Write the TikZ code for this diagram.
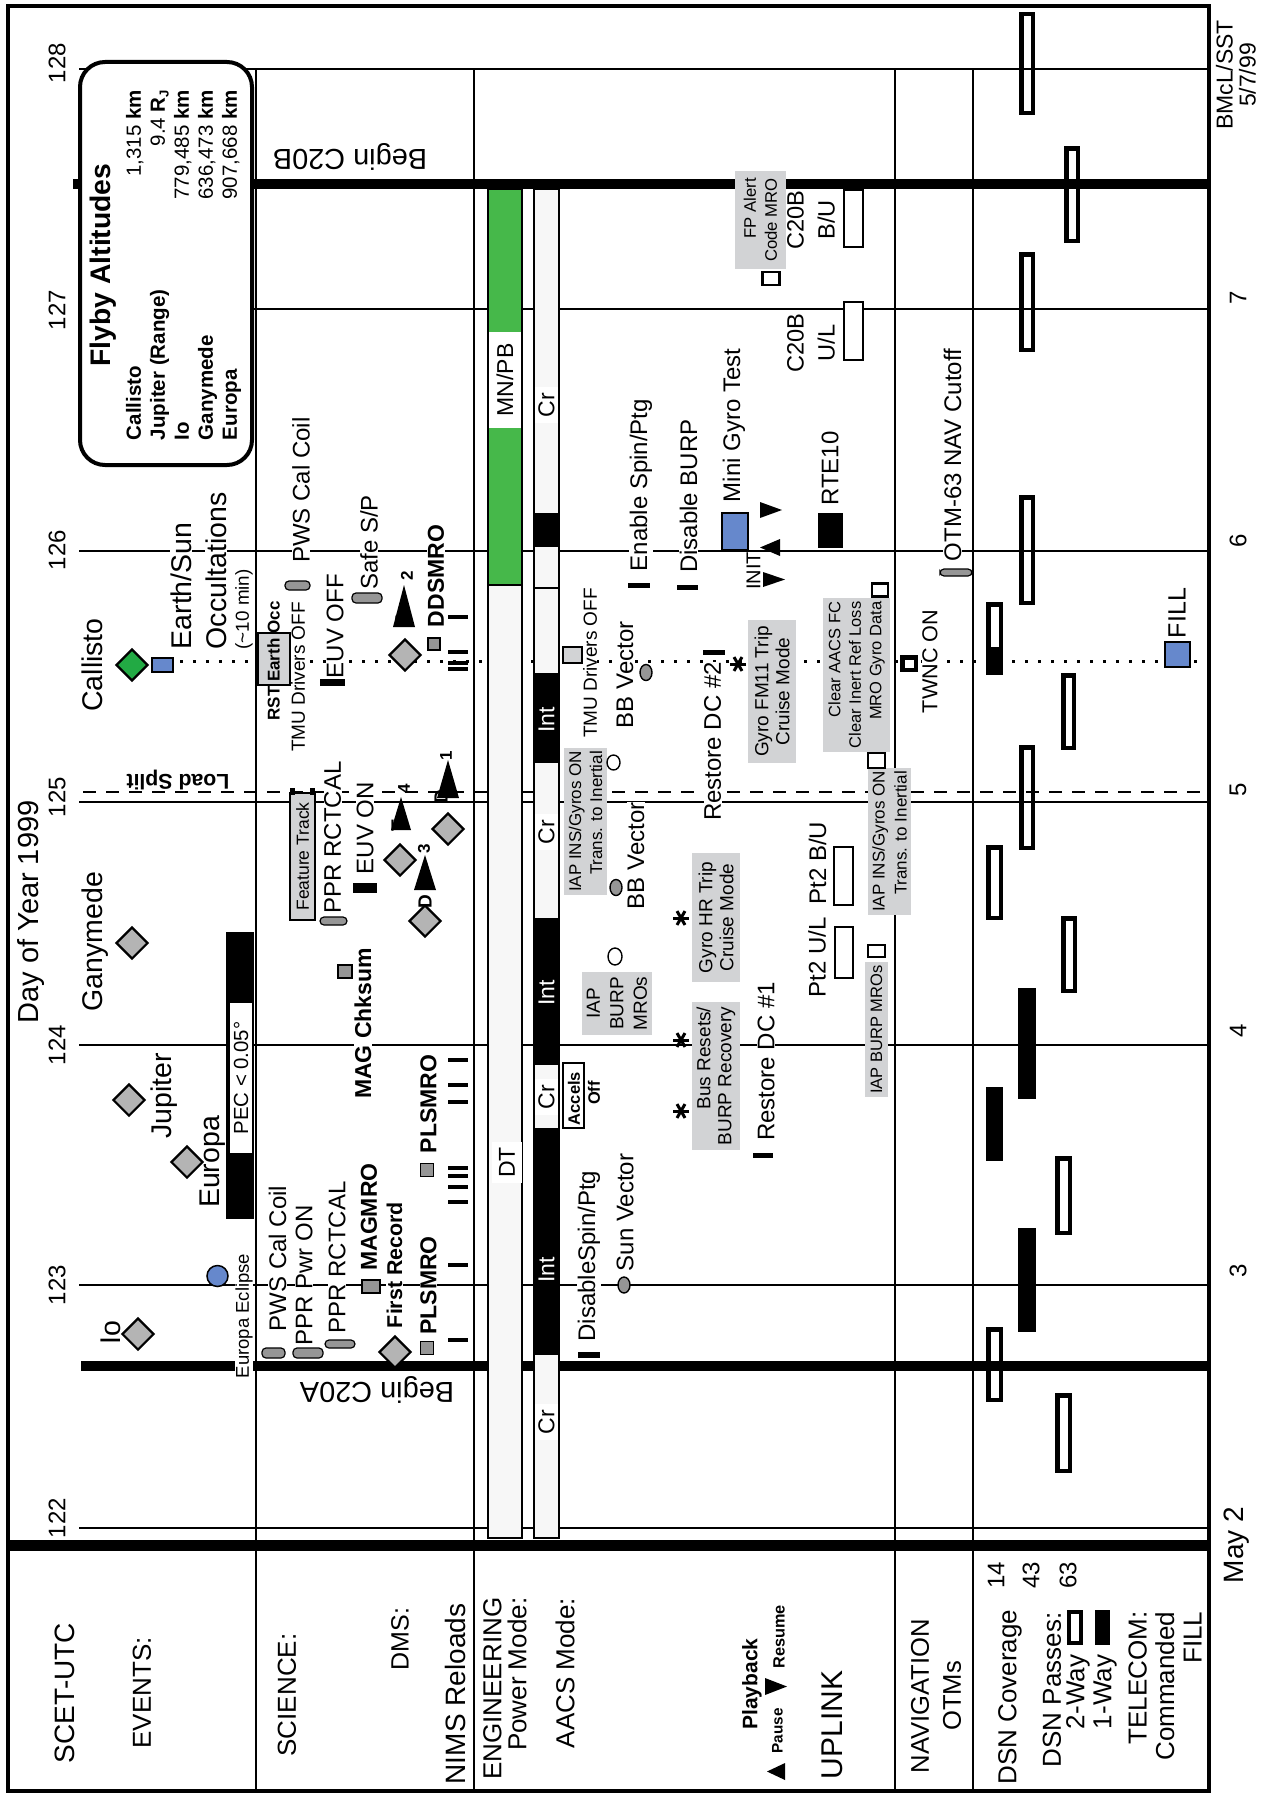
\documentclass[tikz,border=0pt]{standalone}
\usepackage{fontspec}
\setmainfont{Liberation Sans}
\usetikzlibrary{shapes.geometric}
\definecolor{gemgray}{RGB}{180,180,180}
\definecolor{pillgray}{RGB}{150,150,150}
\definecolor{notegray}{RGB}{210,211,213}
\definecolor{barlight}{RGB}{247,247,247}
\definecolor{calgreen}{RGB}{34,170,68}
\definecolor{pwrgreen}{RGB}{70,184,74}
\definecolor{fillblue}{RGB}{102,136,204}
\newcommand{\fsz}[2]{\fontsize{#1}{#2}\selectfont}

\begin{document}
\begin{tikzpicture}[x=1pt, y=-1pt,
  lbl/.style={rotate=90, fill=white, inner sep=0.5pt, font=\fsz{24}{28}},
  evt/.style={lbl, font=\fsz{28.5}{34}},
  hdr/.style={lbl, font=\fsz{26}{30}},
  bld/.style={lbl, font=\fsz{23}{27}\bfseries},
  sml/.style={lbl, font=\fsz{19}{23}},
  daylab/.style={rotate=90, inner sep=0pt, font=\fsz{24}{28}},
  note/.style={rotate=90, fill=notegray, inner sep=0pt, align=center, font=\fsz{19}{21}},
  seglab/.style={rotate=90, inner sep=0pt, font=\fsz{23}{27}},
  gem/.style={diamond, draw, line width=2.2pt, fill=gemgray, minimum size=32pt, inner sep=0pt},
  pill/.style={draw, line width=1.2pt, fill=pillgray, rounded corners=4pt, minimum width=26pt, minimum height=9pt, inner sep=0pt},
  ibar/.style={fill=black, minimum width=22pt, minimum height=6pt, inner sep=0pt},
  gsq/.style={draw, line width=1.2pt, fill=pillgray, minimum size=12pt, inner sep=0pt},
  osq/.style={draw, line width=2.2pt, fill=white, minimum width=16pt, minimum height=13pt, inner sep=0pt},
  blip/.style={ellipse, draw, line width=1.4pt, fill=pillgray, minimum width=12pt, minimum height=16pt, inner sep=0pt},
  pass/.style={draw, line width=4.5pt},
  upbox/.style={draw, line width=2pt, fill=white}]
\useasboundingbox (0,0) rectangle (1277,1793);

% grid
\foreach \yy in {69,309,551,802,1045,1285,1528}
  \draw[line width=2.2pt] (79,\yy) -- (1209,\yy);
\foreach \xx in {256,474,895,973}
  \draw[line width=2.4pt] (\xx,69) -- (\xx,1791);
\draw[line width=2.6pt, dash pattern=on 13pt off 10pt] (83,792) -- (1207,792);
\draw[line width=3pt, dash pattern=on 3pt off 10pt] (180,661) -- (1203,661);
\draw[line width=10pt] (73,184) -- (1209,184);
\draw[line width=10pt] (81,1366) -- (1209,1366);
\draw[line width=11pt] (8,1545) -- (1209,1545);
\draw[line width=4.5pt] (8,6) rectangle (1209,1791);

% day labels
\foreach \d/\yy in {122/1518,123/1285,124/1045,125/797,126/550,127/310,128/63}
  \node[daylab] (day\d) at (57,\yy) {\d};
\foreach \d/\yy in {7/298,6/541,5/790,4/1031,3/1271}
  \node[daylab] (dow\d) at (1238,\yy) {\d};
\node[daylab, font=\fsz{28}{32}] (may) at (1237,1545) {May 2};
\node[daylab, font=\fsz{23}{23}, align=center] (sig) at (1236,75) {BMcL/SST\\5/7/99};
\node[daylab, font=\fsz{29}{34}] (doy) at (31,912) {Day of Year 1999};

% row headings
\node[lbl, font=\fsz{28}{32}] (scet) at (65,1693) {SCET-UTC};
\node[hdr] (events) at (142,1693) {EVENTS:};
\node[hdr] (science) at (287,1695) {SCIENCE:};
\node[hdr, font=\fsz{25}{30}] (dms) at (400,1639) {DMS:};
\node[lbl, font=\fsz{28}{32}] (nims) at (455,1694) {NIMS Reloads};
\node[hdr, align=right, anchor=east, font=\fsz{26}{25}] (eng) at (505,1597) {ENGINEERING\\Power Mode:};
\node[hdr] (aacs) at (565,1673) {AACS Mode:};
\node[rotate=90, inner sep=0pt, font=\fsz{21}{24}\bfseries] (pb) at (752,1684) {Playback};
\fill (767,1771.5) -- (785,1763) -- (785,1780) -- cycle;
\node[rotate=90, inner sep=0pt, font=\fsz{15.3}{18}\bfseries] (pause) at (777.5,1731) {Pause};
\fill (765,1678) -- (787,1686.5) -- (765,1695) -- cycle;
\node[rotate=90, inner sep=0pt, font=\fsz{16.3}{18}\bfseries] (resume) at (779,1637) {Resume};
\node[lbl, font=\fsz{30}{34}] (uplink) at (832,1725) {UPLINK};
\node[hdr, align=center, font=\fsz{25.6}{32}] (nav) at (936,1696) {NAVIGATION\\OTMs};
\node[hdr] (dsncov) at (1010,1697) {DSN Coverage};
\node[daylab] (st14) at (996,1575) {14};
\node[daylab] (st43) at (1031,1575) {43};
\node[daylab] (st63) at (1068,1575) {63};
\node[hdr] (dsnpass) at (1052,1690) {DSN Passes:};
\node[hdr] (twoway) at (1078,1692) {2-Way};
\node[hdr] (oneway) at (1105,1692) {1-Way};
\draw[line width=4.5pt] (1069,1612) rectangle (1081,1643);
\fill (1095,1610) rectangle (1110,1645);
\node[hdr, align=right, anchor=east, font=\fsz{26}{27.5}] (telecom) at (1165,1611) {TELECOM:\\Commanded\\FILL};

% engineering bars
\draw[line width=2pt, fill=barlight] (488,189) rectangle (522,1538);
\draw[line width=2pt, fill=pwrgreen] (488,189) rectangle (522,585);
\node[seglab, fill=white, minimum width=96pt, minimum height=32pt] (mnpb) at (505,380) {MN/PB};
\node[seglab, fill=white, minimum width=41pt, minimum height=30pt] (dt) at (507,1162.5) {DT};
\draw[line width=2pt, fill=barlight] (534,189) rectangle (559,1538);
\foreach \ya/\yb in {513/547,673/763,918/1065,1128/1355}
  \fill (534,\ya) rectangle (559,\yb);
\draw[line width=2pt] (534,588) -- (559,588);
\foreach \yy [count=\i] in {405,832,1097,1422}
  \node[seglab, fill=white, minimum width=36pt, minimum height=23pt] (cr\i) at (546.5,\yy) {Cr};
\foreach \yy [count=\i] in {720,993,1270}
  \node[seglab, text=white] (int\i) at (546.5,\yy) {Int};
\draw[line width=2pt, fill=white] (563,1063) rectangle (584,1128);
\node[rotate=90, inner sep=0pt, font=\fsz{16.5}{19}\bfseries] (accels) at (574,1098.5) {Accels};
\node[rotate=90, inner sep=0pt, font=\fsz{16.5}{19}\bfseries] (off) at (594,1093) {Off};

% events
\node[evt] (io) at (111,1333) {Io};
\node[gem] (iod) at (138,1334) {};
\node[lbl, font=\fsz{18.5}{22}] (eecl) at (244,1316) {Europa Eclipse};
\draw[line width=1.5pt, fill=fillblue] (217.5,1276) circle[radius=10.5pt];
\node[evt] (europa) at (212.5,1162) {Europa};
\node[gem] (europad) at (187,1162) {};
\fill (226,932) rectangle (254,1219);
\node[rotate=90, fill=white, inner sep=0pt, minimum width=150pt, minimum height=22pt, font=\fsz{20.4}{24}] (pec) at (241,1078) {PEC < 0.05°};
\node[evt] (jup) at (164,1096) {Jupiter};
\node[gem] (jupd) at (129,1100) {};
\node[evt] (gany) at (95,941.5) {Ganymede};
\node[gem] (ganyd) at (132,943) {};
\node[evt] (call) at (92.5,665) {Callisto};
\node[gem, fill=calgreen] (calld) at (132,665) {};
\draw[line width=1.5pt, fill=fillblue] (152,658) rectangle (173,672);
\node[evt, anchor=west] (esun) at (181,650) {Earth/Sun};
\node[evt, anchor=west] (occ) at (216,650) {Occultations};
\node[lbl, anchor=west, font=\fsz{18.8}{22}] (tenmin) at (244,650) {(\textasciitilde10 min)};
\node[rotate=180, inner sep=0pt, font=\fsz{21.3}{24}\bfseries] (split) at (178,780) {Load Split};

% flyby box
\draw[line width=4pt, rounded corners=25pt, fill=white] (80,62) rectangle (252,465);
\node[rotate=90, inner sep=0pt] (flyby) at (167,265) {\fsz{20.5}{24}%
  \begin{tabular*}{350pt}{@{}l@{\extracolsep{\fill}}r@{}}
  \multicolumn{2}{@{}c@{}}{\fsz{28.3}{32}\bfseries Flyby Altitudes}\\[6.5pt]
  \bfseries Callisto & 1,315 \textbf{km}\\
  \bfseries Jupiter (Range) & 9.4 \textbf{R}\raisebox{-0.35ex}{\fsz{13}{13}\bfseries J}\\
  \bfseries Io & 779,485 \textbf{km}\\
  \bfseries Ganymede & 636,473 \textbf{km}\\
  \bfseries Europa & 907,668 \textbf{km}
  \end{tabular*}};

% science
\node[rotate=180, inner sep=0pt, font=\fsz{28.9}{32}] (c20b) at (350,157) {Begin C20B};
\node[rotate=180, inner sep=0pt, font=\fsz{28.9}{32}] (c20a) at (377,1390) {Begin C20A};
\node[lbl] (pwsup) at (301,490) {PWS Cal Coil};
\node[sml] (tmusci) at (298,677) {TMU Drivers OFF};
\draw[line width=1.5pt, fill=notegray] (258,633) rectangle (290,685);
\node[rotate=90, inner sep=0pt, font=\fsz{17}{20}\bfseries] (rst) at (273.5,661) {RST Earth Occ};
\node[lbl] (euvoff) at (335,626) {EUV OFF};
\node[lbl] (safe) at (369,542.5) {Safe S/P};
\node[bld] (dds) at (436,576) {DDSMRO};
\node[lbl] (pprup) at (332.5,837.5) {PPR RCTCAL};
\node[lbl] (euvon) at (365,828) {EUV ON};
\node[rotate=90, draw, line width=1.5pt, fill=notegray, minimum width=127pt, minimum height=25pt, inner sep=0pt, font=\fsz{17.5}{20}] (ftrack) at (302.5,856.5) {Feature Track};
\fill (290,788) rectangle (295,795);
\fill (310,788) rectangle (315,795);
\node[bld] (magck) at (363,1023.5) {MAG Chksum};
\node[bld] (pls1) at (428.5,1104) {PLSMRO};
\node[bld] (pls2) at (428.5,1285.5) {PLSMRO};
\node[lbl] (pwslo) at (277.5,1258.5) {PWS Cal Coil};
\node[lbl] (pprpwr) at (304,1275.5) {PPR Pwr ON};
\node[lbl] (pprlo) at (337,1257.5) {PPR RCTCAL};
\node[bld] (magmro) at (369,1217) {MAGMRO};
\node[bld, font=\fsz{21.4}{25}\bfseries] (first) at (394.5,1265) {First Record};

% dms playback groups
\foreach \tx/\ty/\ax/\ay/\bw/\bh/\lx/\ly/\lt/\nt [count=\i] in
  {402/622/404/585/11/42/407/576/T/2, 398/826/401/797/10/33/404/789/T/4,
   425/902/425/855/11/35/424/849/D/3, 441/797/448/760/11/38/446/756/D/1}
{
  \fill (\ax-\bw,\ay+\bh) -- (\ax,\ay) -- (\ax+\bw,\ay+\bh) -- cycle;
  \node[rotate=90, inner sep=0pt, font=\fsz{19}{22}\bfseries] (pbl\i) at (\tx,\ty) {\lt};
  \node[rotate=90, inner sep=0pt, font=\fsz{17}{20}\bfseries] (pbn\i) at (\lx,\ly) {\nt};
}
\foreach \gx/\gy [count=\i] in {405/655,400/860,425/921,448/829,395/1352}
  \node[gem] (dmsd\i) at (\gx,\gy) {};

% science markers
\node[pill, minimum width=25pt] (m1) at (297.5,585.5) {};
\node[ibar, minimum width=25pt, minimum height=7pt] (m2) at (332,682) {};
\node[pill, minimum width=30pt, minimum height=10pt] (m3) at (367,598) {};
\node[gsq] (m4) at (434,644) {};
\node[pill, minimum width=27pt, minimum height=8pt] (m5) at (333.5,921) {};
\node[ibar, minimum width=24pt, minimum height=10pt] (m6) at (365,888) {};
\node[gsq, minimum width=14pt, minimum height=13pt] (m7) at (345,971.5) {};
\node[gsq, minimum size=13pt] (m8) at (427,1170) {};
\node[gsq, minimum size=13pt] (m9) at (427,1348) {};
\node[pill, minimum width=23pt, minimum height=10pt] (m10) at (273.5,1353) {};
\node[pill, minimum width=30pt, minimum height=10pt] (m11) at (308,1353) {};
\node[pill, minimum width=30pt, minimum height=8pt] (m12) at (340,1344) {};
\node[gsq, minimum width=18pt, minimum height=13pt] (m13) at (371,1286.5) {};

% nims reloads
\foreach \yy in {617,652,663,669,1060,1085,1102,1168,1176,1187,1202,1265,1340}
  \fill (448,\yy-1.8) rectangle (468,\yy+1.8);

% aacs column
\node[lbl] (dspin) at (589,1256) {DisableSpin/Ptg};
\node[lbl] (sunv) at (625,1212.5) {Sun Vector};
\node[lbl] (bbv1) at (636,856) {BB Vector};
\node[note, minimum width=63pt, minimum height=70pt, font=\fsz{19}{23.5}] (iapburp) at (617,1003.5) {IAP\\BURP\\MROs};
\node[note, minimum width=147pt, minimum height=43pt, align=right, font=\fsz{17}{21}] (iapins1) at (585.5,821.5) {IAP INS/Gyros ON\\Trans. to Inertial};
\node[sml] (tmuaacs) at (590,663) {TMU Drivers OFF};
\node[lbl] (bbv2) at (625,675) {BB Vector};
\node[lbl] (espin) at (641,485) {Enable Spin/Ptg};
\node[lbl] (dburp) at (688.5,496) {Disable BURP};
\node[lbl] (rdc2) at (712.5,741.5) {Restore DC \#2};
\node[note, minimum width=143pt, minimum height=48pt] (fm11) at (772,691.5) {Gyro FM11 Trip\\Cruise Mode};
\node[lbl] (rdc1) at (766,1061.5) {Restore DC \#1};
\node[note, minimum width=148pt, minimum height=48pt, align=right] (busr) at (716,1076) {Bus Resets/\\BURP Recovery};
\node[note, minimum width=129pt, minimum height=48pt] (gyhr) at (716,917.5) {Gyro HR Trip\\Cruise Mode};

\node[ibar] (a1) at (589,1355) {};
\node[blip] (a2) at (624,1285) {};
\node[blip] (a3) at (616,887.5) {};
\node[blip, fill=white, minimum width=14pt, minimum height=17pt] (a4) at (615,956.5) {};
\node[blip, fill=white, minimum width=13pt, minimum height=15pt] (a5) at (613.5,762.5) {};
\node[draw, line width=1.5pt, fill=notegray, minimum width=19pt, minimum height=16pt, inner sep=0pt] (a6) at (572.5,655) {};
\node[blip] (a7) at (646,672.5) {};
\node[ibar, minimum height=5pt] (a8) at (639,585) {};
\node[ibar, minimum width=21pt, minimum height=5pt] (a9) at (687.5,587) {};
\node[ibar, minimum height=5pt] (a10) at (714,652) {};
\node[ibar, minimum width=20pt, minimum height=5pt] (a11) at (763,1155.5) {};
\foreach \cx/\cy in {738/664,681/918,681/1040,681/1111}
  \foreach \a in {0,60,120}
    \draw[line width=3pt] ([shift={(\a:8pt)}]\cx,\cy) -- ([shift={(\a+180:8pt)}]\cx,\cy);

% uplink
\node[lbl] (pt2ul) at (817,957.5) {Pt2 U/L};
\draw[upbox] (835,927) rectangle (853,978);
\node[lbl] (pt2bu) at (817.5,863) {Pt2 B/U};
\draw[upbox] (834,847) rectangle (853,905);
\node[lbl, align=center, font=\fsz{23.6}{31}] (c20bul) at (811,343) {C20B\\U/L};
\draw[upbox] (844,302) rectangle (863,360);
\node[lbl, align=center, font=\fsz{23.6}{31}] (c20bbu) at (811,220) {C20B\\B/U};
\draw[upbox] (844,190) rectangle (863,247);
\node[note, minimum width=98pt, minimum height=51pt, align=right, font=\fsz{16.7}{21}] (fpal) at (760.5,220) {FP Alert\\Code MRO};
\node[osq, minimum width=17pt, minimum height=13pt] (u1) at (771,278.5) {};
\node[lbl] (mini) at (734,425.5) {Mini Gyro Test};
\draw[line width=2pt, fill=fillblue] (722,513) rectangle (748,550);
\node[lbl, font=\fsz{20}{24}] (init) at (753.5,571) {INIT};
\fill (760,502) -- (782,510) -- (760,518) -- cycle;
\fill (780,539) -- (760,547.5) -- (780,556) -- cycle;
\fill (763,572) -- (785,579.5) -- (763,587) -- cycle;
\node[lbl] (rte) at (830,468.5) {RTE10};
\fill (818,513) rectangle (843,548);
\node[note, minimum width=154pt, minimum height=67pt, align=right, font=\fsz{16.5}{20.5}] (clraacs) at (856.5,675) {Clear AACS FC\\Clear Inert Ref Loss\\MRO Gyro Data};
\node[osq] (u2) at (880,590) {};
\node[note, minimum width=147pt, minimum height=43pt, align=right, font=\fsz{17}{22}] (iapins2) at (889.5,841.5) {IAP INS/Gyros ON\\Trans. to Inertial};
\node[osq, minimum width=17pt, minimum height=15pt] (u3) at (876.5,760.5) {};
\node[note, minimum width=135pt, minimum height=23pt, font=\fsz{16.5}{20}] (iapburp2) at (876.5,1029.5) {IAP BURP MROs};
\node[osq, minimum width=17pt, minimum height=12pt] (u4) at (876.5,951) {};

% navigation
\node[lbl] (otm) at (952.5,455) {OTM-63 NAV Cutoff};
\node[pill, minimum width=32pt, minimum height=7pt] (n1) at (956,572.5) {};
\node[lbl, font=\fsz{21.6}{25}] (twnc) at (930,661.5) {TWNC ON};
\node[draw, line width=4.5pt, fill=white, minimum width=13.5pt, minimum height=12.5pt, inner sep=0pt] (n2) at (909,663.5) {};

% dsn passes
\foreach \xa/\xb/\ya/\yb in {986/1003/1327/1402, 986/1003/845/920, 986/1003/602/675,
   1019/1035/12/115, 1019/1035/252/352, 1019/1035/495/605, 1019/1035/745/850,
   1064/1080/146/243, 1061/1076/673/750, 1061/1077/916/993, 1055/1072/1156/1235, 1055/1072/1393/1473}
  \draw[pass] (\xa+2.25,\ya+2.25) rectangle (\xb-2.25,\yb-2.25);
\foreach \xa/\xb/\ya/\yb in {986/1003/1087/1161, 986/1003/647/675, 1018/1036/988/1099, 1018/1036/1228/1332}
  \fill (\xa,\ya) rectangle (\xb,\yb);
\node[lbl, font=\fsz{25}{29}] (fill) at (1177,613) {FILL};
\draw[line width=2pt, fill=fillblue] (1165,642) rectangle (1190,667);
\end{tikzpicture}
\end{document}
